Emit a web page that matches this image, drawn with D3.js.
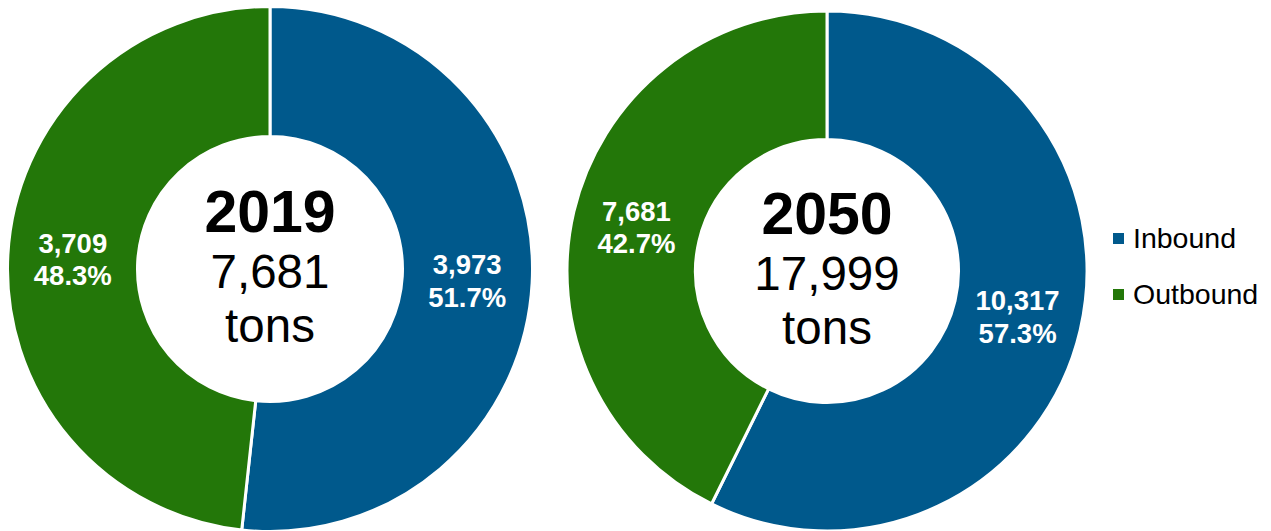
<!DOCTYPE html>
<html>
<head>
<meta charset="utf-8">
<script src="https://cdn.jsdelivr.net/npm/d3@7"></script>
<style>
  html, body { margin: 0; padding: 0; background: #fff; }
  svg { display: block; font-family: "Liberation Sans", Arial, sans-serif; }
</style>
</head>
<body>
<svg id="chart" width="1271" height="531"></svg>
<script>
// Freight tonnage by direction
const years = ["2019", "2050"];
const categories = ["Inbound", "Outbound"];
const inboundTons = [3973, 10317];
const outboundTons = [3709, 7681];
const totalTons = [7681, 17999];
const seriesColors = ["#00598C", "#237709"];

// Donut geometry for each year
const donuts = [
  { cx: 270, cy: 269, outer: 262.5, inner: 132.5 },
  { cx: 827, cy: 271, outer: 260, inner: 131.5 }
];

const svg = d3.select("#chart");
const color = d3.scaleOrdinal().domain(categories).range(seriesColors);
const fmtNum = d3.format(",");
const fmtPct = d3.format(".1%");

const pie = d3.pie().sort(null).value(d => d.value);

years.forEach((year, i) => {
  const geo = donuts[i];
  const rows = [
    { key: categories[0], value: inboundTons[i] },
    { key: categories[1], value: outboundTons[i] }
  ];
  const sum = d3.sum(rows, d => d.value);
  const arcs = pie(rows);

  const arc = d3.arc().innerRadius(geo.inner).outerRadius(geo.outer);
  const mid = (geo.inner + geo.outer) / 2;
  const labelArc = d3.arc().innerRadius(mid).outerRadius(mid);

  const g = svg.append("g").attr("transform", `translate(${geo.cx},${geo.cy})`);

  g.selectAll("path.slice")
    .data(arcs)
    .join("path")
    .attr("class", "slice")
    .attr("d", arc)
    .attr("fill", d => color(d.data.key))
    .attr("stroke", "#fff")
    .attr("stroke-width", 3)
    .attr("stroke-linejoin", "miter");

  // Slice value and share labels
  const lab = g.selectAll("text.val")
    .data(arcs)
    .join("text")
    .attr("class", "val")
    .attr("transform", d => `translate(${labelArc.centroid(d)})`)
    .attr("text-anchor", "middle")
    .attr("fill", "#fff")
    .attr("font-weight", "bold")
    .attr("font-size", 27.5);
  lab.append("tspan").attr("x", 0).attr("y", -5.5).text(d => fmtNum(d.data.value));
  lab.append("tspan").attr("x", 0).attr("y", 27).text(d => fmtPct(d.data.value / sum));

  // Centre caption
  g.append("text")
    .attr("text-anchor", "middle")
    .attr("y", -37)
    .attr("font-size", 59)
    .attr("font-weight", "bold")
    .attr("fill", "#000")
    .text(year);
  g.append("text")
    .attr("text-anchor", "middle")
    .attr("y", 19)
    .attr("font-size", 47.5)
    .attr("fill", "#000")
    .text(fmtNum(totalTons[i]));
  g.append("text")
    .attr("text-anchor", "middle")
    .attr("y", 73)
    .attr("font-size", 47.5)
    .attr("fill", "#000")
    .text("tons");
});

// Legend
const legend = svg.append("g").attr("transform", "translate(1113,233)");
const item = legend.selectAll("g")
  .data(categories)
  .join("g")
  .attr("transform", (d, i) => `translate(0,${i * 56})`);
item.append("rect")
  .attr("width", 11)
  .attr("height", 11)
  .attr("fill", d => color(d));
item.append("text")
  .attr("x", 20)
  .attr("y", 5)
  .attr("dy", "0.35em")
  .attr("font-size", 28.5)
  .attr("fill", "#000")
  .text(d => d);
</script>
</body>
</html>
